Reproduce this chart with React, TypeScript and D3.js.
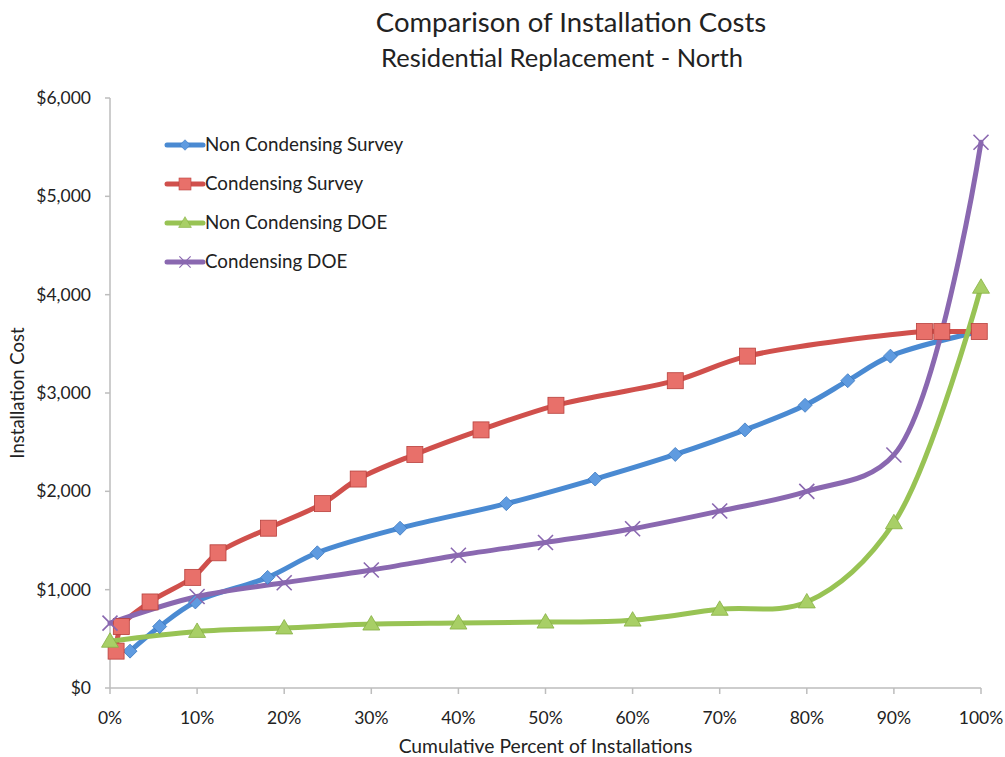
import React from "react";
import * as d3 from "d3";

const W = 1005;
const H = 757;

const yTicks = [0, 1000, 2000, 3000, 4000, 5000, 6000];
const xTicks = [0, 10, 20, 30, 40, 50, 60, 70, 80, 90, 100];

const seriesNames = ["Non Condensing Survey", "Condensing Survey", "Non Condensing DOE", "Condensing DOE"];

const ncSurveyX = [2.3, 5.7, 9.8, 18.1, 23.8, 33.3, 45.5, 55.7, 64.9, 72.9, 79.8, 84.7, 89.6, 99.8];
const ncSurveyY = [375, 625, 875, 1125, 1375, 1625, 1875, 2125, 2375, 2625, 2875, 3125, 3375, 3625];

const cSurveyX = [0.7, 1.3, 4.6, 9.5, 12.4, 18.2, 24.4, 28.5, 35.0, 42.6, 51.2, 64.9, 73.2, 93.5, 95.5, 99.8];
const cSurveyY = [375, 625, 875, 1125, 1375, 1625, 1875, 2125, 2375, 2625, 2875, 3125, 3375, 3625, 3625, 3625];

const doeX = [0, 10, 20, 30, 40, 50, 60, 70, 80, 90, 100];
const ncDoeY = [475, 575, 610, 650, 660, 670, 690, 800, 875, 1680, 4075];
const cDoeY = [660, 930, 1070, 1200, 1350, 1480, 1620, 1800, 2000, 2370, 5550];

const colors = ["#4a8ad2", "#d0504c", "#98c354", "#8a68b0"];
const markerFill = ["#5f9be0", "#e8706a", "#a8cf66", "#8a68b0"];

const x = d3.scaleLinear().domain([0, 100]).range([110, 981]);
const y = d3.scaleLinear().domain([0, 6000]).range([688, 98]);

const FONT = "Lato, 'Open Sans', sans-serif";

function Marker({ kind, cx, cy }: { kind: number; cx: number; cy: number }) {
  const c = colors[kind];
  const f = markerFill[kind];
  if (kind === 0) {
    const s = 7;
    return (
      <path
        d={`M${cx},${cy - s}L${cx + s},${cy}L${cx},${cy + s}L${cx - s},${cy}Z`}
        fill={f}
        stroke="#3d78bf"
        strokeWidth={0.8}
      />
    );
  }
  if (kind === 1) {
    const s = 8;
    return <rect x={cx - s} y={cy - s} width={2 * s} height={2 * s} fill={f} stroke="#b8403c" strokeWidth={0.8} />;
  }
  if (kind === 2) {
    const s = 8.5;
    return (
      <path
        d={`M${cx},${cy - s}L${cx + s},${cy + s * 0.7}L${cx - s},${cy + s * 0.7}Z`}
        fill={f}
        stroke="#86b044"
        strokeWidth={0.8}
      />
    );
  }
  const s = 7.5;
  return (
    <path
      d={`M${cx - s},${cy - s}L${cx + s},${cy + s}M${cx - s},${cy + s}L${cx + s},${cy - s}`}
      stroke={c}
      strokeWidth={1.6}
      fill="none"
    />
  );
}

export default function App() {
  const series = [
    { xs: ncSurveyX, ys: ncSurveyY },
    { xs: cSurveyX, ys: cSurveyY },
    { xs: doeX, ys: ncDoeY },
    { xs: doeX, ys: cDoeY },
  ];
  const line = d3
    .line<[number, number]>()
    .x((d) => x(d[0]))
    .y((d) => y(d[1]))
    .curve(d3.curveCatmullRom.alpha(0.5));

  const legendY = [145, 184, 223, 262];

  return (
    <svg width={W} height={H} style={{ display: "block", position: "absolute", left: 0, top: 0 }} fontFamily={FONT}>
      <rect width={W} height={H} fill="#fff" />
      <text x={571} y={32} textAnchor="middle" fontSize={27.5} fill="#222">
        Comparison of Installation Costs
      </text>
      <text x={562} y={67} textAnchor="middle" fontSize={25.5} fill="#222">
        Residential Replacement - North
      </text>

      {/* y axis */}
      <line x1={x(0)} x2={x(0)} y1={y(6000)} y2={y(0)} stroke="#bdbdbd" strokeWidth={1.5} />
      {yTicks.map((t) => (
        <g key={t}>
          <line x1={x(0) - 5} x2={x(0)} y1={y(t)} y2={y(t)} stroke="#bdbdbd" strokeWidth={1.5} />
          <text x={91} y={y(t) + 6} textAnchor="end" fontSize={17.5} fill="#222">
            {d3.format("$,")(t)}
          </text>
        </g>
      ))}
      {/* x axis */}
      <line x1={x(0)} x2={x(100)} y1={y(0)} y2={y(0)} stroke="#bdbdbd" strokeWidth={1.5} />
      {xTicks.map((t) => (
        <g key={t}>
          <line x1={x(t)} x2={x(t)} y1={y(0)} y2={y(0) + 6} stroke="#bdbdbd" strokeWidth={1.5} />
          <text x={x(t)} y={724} textAnchor="middle" fontSize={17.5} fill="#222">
            {t}%
          </text>
        </g>
      ))}
      <text x={545.5} y={753} textAnchor="middle" fontSize={19.3} fill="#222">
        Cumulative Percent of Installations
      </text>
      <text transform="translate(24,393) rotate(-90)" textAnchor="middle" fontSize={18.5} fill="#222">
        Installation Cost
      </text>

      {/* lines */}
      {series.map((s, i) => {
        const pts = s.xs.map((v, j) => [v, s.ys[j]] as [number, number]);
        return (
          <path key={i} d={line(pts) || ""} fill="none" stroke={colors[i]} strokeWidth={5} strokeLinejoin="round" strokeLinecap="round" />
        );
      })}
      {series.map((s, i) => (
        <g key={"m" + i}>
          {s.xs.map((v, j) => (
            <Marker key={j} kind={i} cx={x(v)} cy={y(s.ys[j])} />
          ))}
        </g>
      ))}

      {/* legend */}
      {seriesNames.map((n, i) => (
        <g key={n}>
          <line x1={167} x2={203} y1={legendY[i]} y2={legendY[i]} stroke={colors[i]} strokeWidth={5} strokeLinecap="round" />
          <g transform={`translate(${185},${legendY[i]}) scale(0.75) translate(${-185},${-legendY[i]})`}>
            <Marker kind={i} cx={185} cy={legendY[i]} />
          </g>
          <text x={205} y={legendY[i] + 6} fontSize={18.8} fill="#222">
            {n}
          </text>
        </g>
      ))}
    </svg>
  );
}
